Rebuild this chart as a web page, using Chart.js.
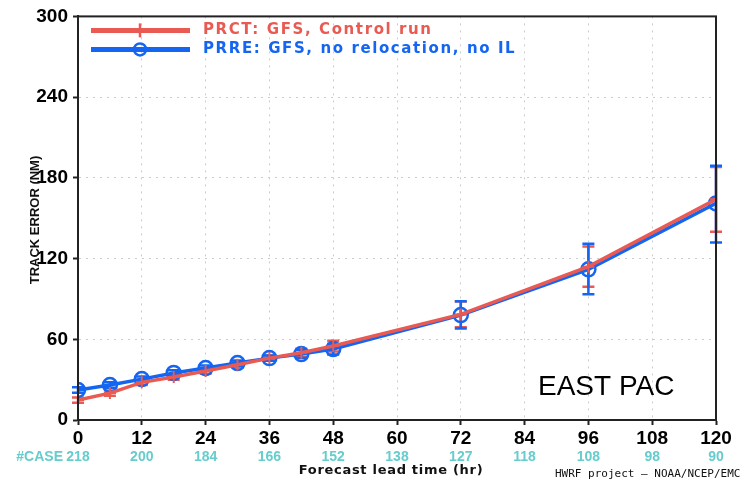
<!DOCTYPE html>
<html lang="en">
<head>
  <meta charset="UTF-8" />
  <title>Track Error - East Pac</title>
  <script src="https://cdn.jsdelivr.net/npm/chart.js"></script>
  <style>
    html, body { margin: 0; padding: 0; background: #fff; }
    #wrap { width: 747px; height: 481px; position: relative; }
  </style>
</head>
<body>
  <div id="wrap"><canvas id="trackChart"></canvas></div>
  <script>
    // forecast lead times (hr) and number of cases
    const leadTimes = [0, 6, 12, 18, 24, 30, 36, 42, 48, 72, 96, 120];
    const caseHours = [0, 12, 24, 36, 48, 60, 72, 84, 96, 108, 120];
    const caseCounts = [218, 200, 184, 166, 152, 138, 127, 118, 108, 98, 90];
    const yTicks = [0, 60, 120, 180, 240, 300];

    // PRCT: GFS, Control run
    const prctMean = [14.8, 20, 28, 32, 36.4, 41, 46, 50, 55, 78.5, 114, 164];
    const prctLow  = [12.8, 18, 26, 30, 34.4, 39, 44, 47, 51, 69, 99, 140];
    const prctHigh = [16.8, 22, 30, 34, 38.4, 43, 48, 53, 59, 88, 129, 188];

    // PRRE: GFS, no relocation, no IL
    const prreMean = [22.3, 26, 30.4, 35, 38.6, 42.3, 46, 49, 52.7, 78, 112, 161];
    const prreLow  = [20.3, 24, 28.4, 33, 36.6, 40.3, 44, 46, 48.7, 68, 93.5, 132];
    const prreHigh = [24.3, 28, 32.4, 37, 40.6, 44.3, 48, 52, 56.7, 88.3, 131, 189];

    const RED = '#e85a52';
    const BLUE = '#1466f2';
    const TEAL = '#66cccc';

    const errorBars = {
      id: 'errorBars',
      beforeDatasetsDraw(chart) {
        const ctx = chart.ctx;
        const xs = chart.scales.x, ys = chart.scales.y;
        chart.data.datasets.forEach(ds => {
          ctx.save();
          ctx.strokeStyle = ds.borderColor;
          ctx.lineWidth = 2.5;
          ds.errLow.forEach((lo, i) => {
            const x = xs.getPixelForValue(leadTimes[i]);
            const y1 = ys.getPixelForValue(lo);
            const y2 = ys.getPixelForValue(ds.errHigh[i]);
            ctx.beginPath();
            ctx.moveTo(x, y1); ctx.lineTo(x, y2);
            ctx.moveTo(x - 6, y1); ctx.lineTo(x + 6, y1);
            ctx.moveTo(x - 6, y2); ctx.lineTo(x + 6, y2);
            ctx.stroke();
          });
          ctx.restore();
        });
      }
    };

    const decorations = {
      id: 'decorations',
      afterDraw(chart) {
        const ctx = chart.ctx;
        const a = chart.chartArea;
        const xs = chart.scales.x;
        ctx.save();
        // frame
        ctx.strokeStyle = '#222';
        ctx.lineWidth = 2;
        ctx.strokeRect(a.left, a.top, a.right - a.left, a.bottom - a.top);

        // legend
        const rows = [
          { ds: chart.data.datasets[0], y: a.top + 14 },
          { ds: chart.data.datasets[1], y: a.top + 33 }
        ];
        rows.forEach(r => {
          ctx.strokeStyle = r.ds.borderColor;
          ctx.lineWidth = 5;
          ctx.beginPath();
          ctx.moveTo(a.left + 13, r.y); ctx.lineTo(a.left + 112, r.y);
          ctx.stroke();
          ctx.lineWidth = 2.5;
          const mx = a.left + 62;
          ctx.beginPath();
          if (r.ds.pointStyle === 'circle') {
            ctx.arc(mx, r.y, 6, 0, Math.PI * 2);
          } else {
            ctx.moveTo(mx, r.y - 7); ctx.lineTo(mx, r.y + 7);
          }
          ctx.stroke();
          ctx.fillStyle = r.ds.borderColor;
          ctx.font = 'bold 15px "DejaVu Sans", sans-serif';
          ctx.letterSpacing = '1.6px';
          ctx.textAlign = 'left';
          ctx.textBaseline = 'middle';
          ctx.fillText(r.ds.label, a.left + 125, r.y);
        });
        ctx.letterSpacing = '0px';

        // case counts
        ctx.fillStyle = TEAL;
        ctx.font = 'bold 14px "Liberation Sans", Arial, sans-serif';
        ctx.textAlign = 'center';
        ctx.textBaseline = 'middle';
        caseHours.forEach((h, i) => {
          ctx.fillText(String(caseCounts[i]), xs.getPixelForValue(h), 457);
        });
        ctx.textAlign = 'right';
        ctx.fillText('#CASE', xs.getPixelForValue(0) - 15, 457);

        // axis titles
        ctx.fillStyle = '#111';
        ctx.textAlign = 'center';
        ctx.font = 'bold 13px "DejaVu Sans", sans-serif';
        ctx.letterSpacing = '0.7px';
        ctx.fillText('Forecast lead time (hr)', 391, 471);
        ctx.letterSpacing = '0px';
        ctx.save();
        ctx.translate(35, 220);
        ctx.rotate(-Math.PI / 2);
        ctx.font = 'bold 13px "Liberation Sans", Arial, sans-serif';
        ctx.fillText('TRACK ERROR (NM)', 0, 0);
        ctx.restore();

        ctx.font = '11px "DejaVu Sans Mono", monospace';
        ctx.textAlign = 'left';
        ctx.fillText('HWRF project \u2013 NOAA/NCEP/EMC', 555, 474);

        // region label
        ctx.fillStyle = '#000';
        ctx.font = '28px "Liberation Sans", Arial, sans-serif';
        ctx.fillText('EAST PAC', 538, 387);
        ctx.restore();
      }
    };

    const toXY = arr => arr.map((v, i) => ({ x: leadTimes[i], y: v }));

    const gridOpts = { color: '#cccccc', tickColor: '#222', tickWidth: 2, tickLength: 5, tickBorderDash: [] };
    const borderOpts = { display: true, color: '#222', width: 2, dash: [2, 5] };

    new Chart(document.getElementById('trackChart'), {
      type: 'line',
      data: {
        datasets: [
          {
            label: 'PRCT: GFS, Control run',
            data: toXY(prctMean),
            errLow: prctLow, errHigh: prctHigh,
            borderColor: RED, backgroundColor: RED,
            borderWidth: 3.5,
            pointStyle: 'cross', pointRadius: 6, pointBorderWidth: 2,
            tension: 0
          },
          {
            label: 'PRRE: GFS, no relocation, no IL',
            data: toXY(prreMean),
            errLow: prreLow, errHigh: prreHigh,
            borderColor: BLUE, backgroundColor: 'rgba(0,0,0,0)',
            borderWidth: 3.5,
            pointStyle: 'circle', pointRadius: 7, pointBorderWidth: 2.5,
            tension: 0
          }
        ]
      },
      options: {
        responsive: true,
        maintainAspectRatio: false,
        animation: false,
        layout: { padding: { left: 0, right: 31, top: 16, bottom: 0 } },
        plugins: { legend: { display: false }, tooltip: { enabled: false } },
        scales: {
          x: {
            type: 'linear', min: 0, max: 120,
            afterBuildTicks: s => { s.ticks = caseHours.map(v => ({ value: v })); },
            afterFit: s => { s.height = 61; },
            grid: gridOpts,
            border: borderOpts,
            ticks: { color: '#000', padding: 2, maxRotation: 0, font: { family: '"Liberation Sans", Arial, sans-serif', size: 19, weight: 'bold' } }
          },
          y: {
            min: 0, max: 300,
            afterBuildTicks: s => { s.ticks = yTicks.map(v => ({ value: v })); },
            afterFit: s => { s.width = 78; },
            grid: gridOpts,
            border: borderOpts,
            ticks: { color: '#000', padding: 5, font: { family: '"Liberation Sans", Arial, sans-serif', size: 19, weight: 'bold' } }
          }
        }
      },
      plugins: [errorBars, decorations]
    });
  </script>
</body>
</html>
